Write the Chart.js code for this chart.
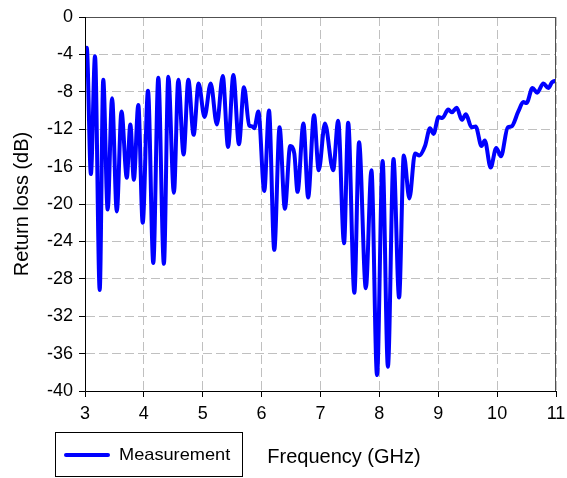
<!DOCTYPE html>
<html>
<head>
<meta charset="utf-8">
<script src="https://cdn.jsdelivr.net/npm/chart.js@4/dist/chart.umd.min.js"></script>
<style>
  html, body { margin: 0; padding: 0; background: #fff; }
  #wrap { width: 567px; height: 478px; }
</style>
</head>
<body>
<div id="wrap"><canvas id="c" width="567" height="478"></canvas></div>
<script>
// Measured return loss of the antenna, 3–11 GHz
const freqGHz = [
  3.00, 3.03, 3.10, 3.17, 3.25, 3.31, 3.385, 3.46, 3.54, 3.62,
  3.71, 3.77, 3.83, 3.905, 3.98, 4.07, 4.16, 4.245, 4.34, 4.415,
  4.51, 4.585, 4.675, 4.755, 4.845, 4.93, 5.03, 5.135, 5.24, 5.34,
  5.43, 5.52, 5.615, 5.70, 5.79, 5.84, 5.875, 5.945, 6.045, 6.125,
  6.215, 6.305, 6.395, 6.485, 6.555, 6.61, 6.71, 6.79, 6.89, 6.97,
  7.075, 7.215, 7.30, 7.40, 7.47, 7.575, 7.655, 7.77, 7.865, 7.96,
  8.055, 8.145, 8.24, 8.335, 8.415, 8.51, 8.605, 8.68, 8.775, 8.86,
  8.92, 9.005, 9.07, 9.17, 9.23, 9.315, 9.40, 9.47, 9.565, 9.635,
  9.735, 9.79, 9.89, 9.985, 10.065, 10.18, 10.245, 10.36, 10.445, 10.50,
  10.60, 10.68, 10.785, 10.87, 10.93, 11.00
];
const returnLossDb = [
  -3.4, -3.3, -16.8, -4.2, -29.2, -6.7, -20.6, -8.7, -20.8, -10.1,
  -17.2, -11.5, -17.4, -9.4, -22.0, -7.9, -26.3, -6.5, -26.4, -6.4,
  -18.8, -6.7, -14.7, -6.7, -12.6, -7.1, -10.7, -7.1, -11.5, -6.3,
  -13.9, -6.2, -13.6, -7.5, -11.6, -11.7, -11.9, -10.1, -18.6, -10.0,
  -24.9, -11.8, -20.5, -13.8, -14.6, -18.7, -11.4, -19.3, -10.5, -16.4,
  -11.4, -16.4, -11.1, -24.2, -11.3, -29.5, -13.4, -29.0, -16.4, -38.3,
  -15.4, -37.4, -15.2, -30.0, -14.8, -19.4, -14.6, -14.8, -13.8, -11.9,
  -12.5, -10.7, -10.8, -9.9, -10.2, -9.7, -11.0, -10.4, -11.8, -11.7,
  -13.8, -13.2, -16.1, -14.0, -14.9, -11.8, -11.7, -10.1, -9.1, -9.2,
  -7.6, -8.1, -7.1, -7.6, -7.0, -6.8
];
const xTicks = [3, 4, 5, 6, 7, 8, 9, 10, 11];
const yTicks = [0, -4, -8, -12, -16, -20, -24, -28, -32, -36, -40];
const seriesName = 'Measurement';
const xTitle = 'Frequency (GHz)';
const yTitle = 'Return loss (dB)';

const FONT = '"Liberation Sans", Arial, sans-serif';
const LINE_BLUE = '#0000ff';

const points = freqGHz.map((f, i) => ({ x: f, y: returnLossDb[i] }));

// Frame, axis titles and the boxed legend below the plot
const decorations = {
  id: 'decorations',
  afterDraw(chart) {
    const { ctx, chartArea: a } = chart;
    ctx.save();
    // plot frame
    ctx.strokeStyle = '#505050';
    ctx.lineWidth = 1;
    ctx.setLineDash([]);
    ctx.strokeRect(a.left + 0.5, a.top + 0.5, a.right - a.left - 1, a.bottom - a.top);
    ctx.strokeStyle = '#000';
    ctx.beginPath();
    ctx.moveTo(a.left + 0.5, a.top);
    ctx.lineTo(a.left + 0.5, a.bottom + 0.5);
    ctx.lineTo(a.right, a.bottom + 0.5);
    ctx.stroke();

    ctx.fillStyle = '#000';
    // y title
    ctx.font = '20px ' + FONT;
    ctx.textAlign = 'center';
    ctx.textBaseline = 'middle';
    ctx.save();
    ctx.translate(22, (a.top + a.bottom) / 2);
    ctx.rotate(-Math.PI / 2);
    ctx.fillText(yTitle, 0, 0);
    ctx.restore();
    // x title
    ctx.fillText(xTitle, 344, 457);

    // legend
    const ds = chart.data.datasets[0];
    ctx.strokeStyle = '#000';
    ctx.lineWidth = 1;
    ctx.strokeRect(55.5, 432.5, 187, 44);
    ctx.strokeStyle = ds.borderColor;
    ctx.lineWidth = 4;
    ctx.lineCap = 'round';
    ctx.beginPath();
    ctx.moveTo(66, 455);
    ctx.lineTo(108, 455);
    ctx.stroke();
    ctx.font = '17px ' + FONT;
    ctx.textAlign = 'left';
    ctx.save();
    ctx.translate(119, 455);
    ctx.scale(1.07, 1);
    ctx.fillText(ds.label, 0, 0);
    ctx.restore();
    ctx.restore();
  }
};

new Chart(document.getElementById('c'), {
  type: 'line',
  data: {
    datasets: [{
      label: seriesName,
      data: points,
      borderColor: LINE_BLUE,
      backgroundColor: LINE_BLUE,
      borderWidth: 4,
      pointRadius: 0,
      fill: false,
      cubicInterpolationMode: 'monotone',
      borderJoinStyle: 'round',
      borderCapStyle: 'round'
    }]
  },
  options: {
    responsive: false,
    animation: false,
    devicePixelRatio: 1,
    layout: { padding: { top: 17, right: 0, left: 0, bottom: 0 } },
    plugins: { legend: { display: false }, tooltip: { enabled: false }, title: { display: false } },
    scales: {
      x: {
        type: 'linear',
        min: 3, max: 11,
        afterFit(scale) { scale.height = 87; scale.paddingRight = 11; },
        afterBuildTicks(scale) { scale.ticks = xTicks.map(v => ({ value: v })); },
        ticks: { color: '#000', font: { family: FONT, size: 18 }, padding: 6, maxRotation: 0 },
        grid: {
          color: '#c0c0c0', lineWidth: 1, tickColor: '#000', tickLength: 6,
          tickBorderDash: [], drawTicks: true
        },
        border: { display: true, color: '#000', dash: [9, 4] }
      },
      y: {
        type: 'linear',
        min: -40, max: 0,
        afterFit(scale) { scale.width = 85; },
        afterBuildTicks(scale) { scale.ticks = yTicks.map(v => ({ value: v })); },
        ticks: { color: '#000', font: { family: FONT, size: 18 }, padding: 6 },
        grid: {
          color: '#c0c0c0', lineWidth: 1, tickColor: '#000', tickLength: 6,
          tickBorderDash: [], drawTicks: true
        },
        border: { display: true, color: '#000', dash: [9, 4] }
      }
    }
  },
  plugins: [decorations]
});
</script>
</body>
</html>
